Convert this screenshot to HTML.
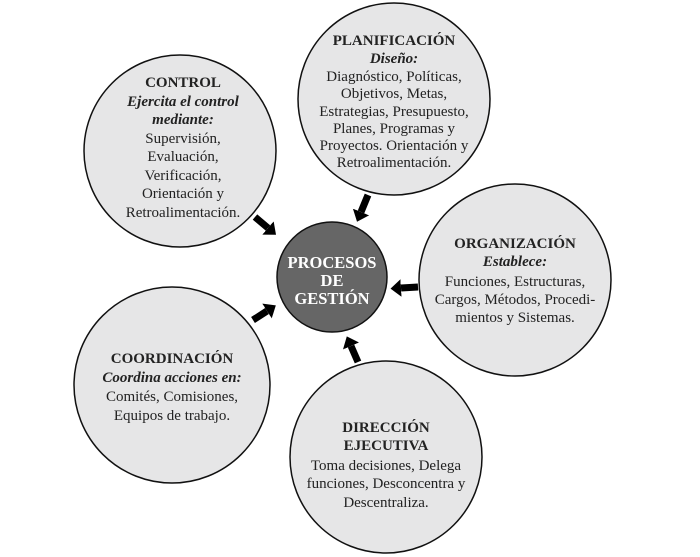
<!DOCTYPE html>
<html><head><meta charset="utf-8"><style>
html,body{margin:0;padding:0;background:#fff}
svg{display:block}
text{font-family:"Liberation Serif",serif;font-size:15px;fill:#222;text-anchor:middle}
.b{font-weight:bold}
.i{font-style:italic;font-weight:bold}
.w{fill:#fff;font-weight:bold;font-size:16.5px}
</style></head><body>
<svg width="700" height="557" viewBox="0 0 700 557" xmlns="http://www.w3.org/2000/svg">
<defs>
<marker id="ah" markerWidth="3" markerHeight="3" refX="0" refY="1.25" orient="auto" markerUnits="strokeWidth">
<path d="M0,0 L1.5,1.25 L0,2.5 Z" fill="#000"/>
</marker>
</defs>
<g fill="#e6e6e7" stroke="#111" stroke-width="1.5">
<circle cx="394" cy="99" r="96"/>
<circle cx="180" cy="151" r="96"/>
<circle cx="515" cy="280" r="96"/>
<circle cx="172" cy="385" r="98"/>
<circle cx="386" cy="457" r="96"/>
</g>
<circle cx="332" cy="277" r="55" fill="#666" stroke="#111" stroke-width="1.5"/>
<g stroke="#000" stroke-width="7" marker-end="url(#ah)">
<line x1="368" y1="195" x2="361" y2="212"/>
<line x1="255" y1="217" x2="268" y2="228"/>
<line x1="418" y1="287" x2="401" y2="288"/>
<line x1="358" y1="362" x2="351" y2="346"/>
<line x1="253" y1="320" x2="267" y2="311"/>
</g>
<text class="w" x="332" y="268">PROCESOS</text>
<text class="w" x="332" y="286">DE</text>
<text class="w" x="332" y="304">GESTIÓN</text>

<text class="b" x="394" y="45">PLANIFICACIÓN</text>
<text class="i" x="394" y="63">Diseño:</text>
<text x="394" y="81">Diagnóstico, Políticas,</text>
<text x="394" y="98">Objetivos, Metas,</text>
<text x="394" y="116">Estrategias, Presupuesto,</text>
<text x="394" y="133">Planes, Programas y</text>
<text x="394" y="150">Proyectos. Orientación y</text>
<text x="394" y="167">Retroalimentación.</text>

<text class="b" x="183" y="87">CONTROL</text>
<text class="i" x="183" y="106">Ejercita el control</text>
<text class="i" x="183" y="124">mediante:</text>
<text x="183" y="143">Supervisión,</text>
<text x="183" y="161">Evaluación,</text>
<text x="183" y="180">Verificación,</text>
<text x="183" y="198">Orientación y</text>
<text x="183" y="217">Retroalimentación.</text>

<text class="b" x="515" y="248">ORGANIZACIÓN</text>
<text class="i" x="515" y="266">Establece:</text>
<text x="515" y="286">Funciones, Estructuras,</text>
<text x="515" y="304">Cargos, Métodos, Procedi-</text>
<text x="515" y="322">mientos y Sistemas.</text>

<text class="b" x="172" y="363">COORDINACIÓN</text>
<text class="i" x="172" y="382">Coordina acciones en:</text>
<text x="172" y="401">Comités, Comisiones,</text>
<text x="172" y="420">Equipos de trabajo.</text>

<text class="b" x="386" y="432">DIRECCIÓN</text>
<text class="b" x="386" y="450">EJECUTIVA</text>
<text x="386" y="470">Toma decisiones, Delega</text>
<text x="386" y="488">funciones, Desconcentra y</text>
<text x="386" y="507">Descentraliza.</text>
</svg>
</body></html>
